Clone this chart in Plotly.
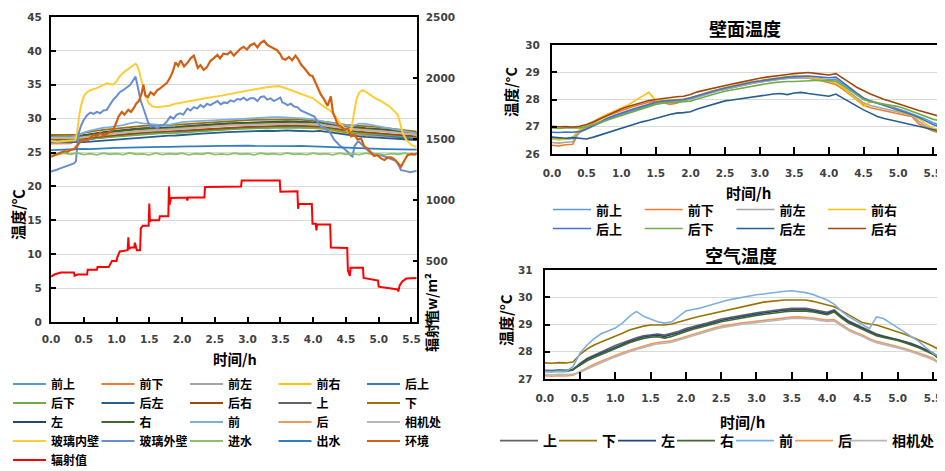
import plotly.graph_objects as go

# ---------------- data ----------------
T = [0.0, 0.1, 0.2, 0.3, 0.4, 0.5, 0.6, 0.7, 0.8, 0.9,
     1.0, 1.1, 1.2, 1.3, 1.4, 1.5, 1.6, 1.7, 1.8, 1.9,
     2.0, 2.1, 2.2, 2.3, 2.4, 2.5, 2.6, 2.7, 2.8, 2.9,
     3.0, 3.1, 3.2, 3.3, 3.4, 3.5, 3.6, 3.7, 3.8, 3.9,
     4.0, 4.1, 4.2, 4.3, 4.4, 4.5, 4.6, 4.7, 4.8, 4.9,
     5.0, 5.1, 5.2, 5.3, 5.4, 5.5, 5.6]

# wall temperatures (壁面温度)
qian_shang = [26.55, 26.56, 26.54, 26.57, 26.80, 26.92, 27.04, 27.15, 27.26, 27.36,
              27.45, 27.54, 27.62, 27.70, 27.78, 27.86, 27.90, 27.92, 27.95, 27.98,
              28.02, 28.10, 28.18, 28.26, 28.32, 28.38, 28.44, 28.50, 28.55, 28.60,
              28.64, 28.68, 28.72, 28.75, 28.77, 28.79, 28.80, 28.80, 28.78, 28.75,
              28.72, 28.74, 28.58, 28.40, 28.22, 28.05, 27.95, 27.88, 27.80, 27.72,
              27.65, 27.57, 27.48, 27.38, 27.28, 27.15, 27.08]
qian_xia = [26.32, 26.30, 26.34, 26.36, 26.85, 27.00, 27.14, 27.28, 27.40, 27.50,
            27.60, 27.68, 27.76, 27.84, 27.90, 27.94, 27.90, 27.82, 27.86, 27.95,
            28.04, 28.14, 28.22, 28.30, 28.36, 28.42, 28.48, 28.54, 28.60, 28.64,
            28.68, 28.72, 28.76, 28.80, 28.82, 28.84, 28.82, 28.80, 28.74, 28.68,
            28.62, 28.55, 28.38, 28.18, 27.98, 27.80, 27.70, 27.64, 27.58, 27.52,
            27.46, 27.42, 27.38, 27.10, 26.96, 26.84, 26.78]
qian_zuo = [26.42, 26.40, 26.43, 26.45, 26.82, 26.95, 27.08, 27.20, 27.32, 27.42,
            27.52, 27.60, 27.68, 27.76, 27.84, 27.90, 27.92, 27.90, 27.92, 27.96,
            28.02, 28.10, 28.18, 28.26, 28.32, 28.38, 28.44, 28.50, 28.56, 28.60,
            28.64, 28.68, 28.72, 28.76, 28.78, 28.80, 28.80, 28.78, 28.74, 28.70,
            28.66, 28.62, 28.45, 28.25, 28.05, 27.88, 27.78, 27.72, 27.66, 27.60,
            27.54, 27.48, 27.42, 27.20, 27.02, 26.90, 26.84]
qian_you = [26.55, 26.52, 26.55, 26.62, 26.90, 27.05, 27.20, 27.34, 27.46, 27.58,
            27.68, 27.80, 27.96, 28.12, 28.26, 27.95, 27.96, 27.98, 28.00, 28.02,
            28.06, 28.14, 28.22, 28.30, 28.38, 28.44, 28.50, 28.56, 28.62, 28.66,
            28.70, 28.74, 28.78, 28.82, 28.84, 28.86, 28.86, 28.84, 28.78, 28.72,
            28.66, 28.62, 28.44, 28.22, 28.00, 27.76, 27.92, 27.88, 27.80, 27.72,
            27.58, 27.50, 27.42, 27.30, 27.10, 26.95, 26.88]
hou_shang = [26.80, 26.79, 26.81, 26.80, 26.82, 26.92, 27.05, 27.18, 27.30, 27.40,
             27.50, 27.58, 27.66, 27.74, 27.82, 27.90, 27.94, 27.96, 27.98, 28.00,
             28.06, 28.14, 28.22, 28.30, 28.36, 28.42, 28.48, 28.54, 28.60, 28.64,
             28.68, 28.72, 28.76, 28.80, 28.82, 28.84, 28.86, 28.86, 28.84, 28.82,
             28.80, 28.82, 28.62, 28.42, 28.24, 28.06, 27.94, 27.86, 27.78, 27.70,
             27.62, 27.54, 27.44, 27.34, 27.22, 27.08, 27.00]
hou_xia = [26.96, 26.94, 26.96, 26.95, 26.96, 27.00, 27.08, 27.18, 27.26, 27.34,
           27.42, 27.50, 27.58, 27.66, 27.74, 27.82, 27.86, 27.88, 27.90, 27.90,
           27.94, 28.02, 28.10, 28.18, 28.24, 28.30, 28.35, 28.40, 28.45, 28.50,
           28.54, 28.58, 28.62, 28.65, 28.66, 28.66, 28.68, 28.68, 28.70, 28.70,
           28.70, 28.68, 28.52, 28.34, 28.16, 28.00, 27.92, 27.88, 27.84, 27.78,
           27.74, 27.66, 27.56, 27.46, 27.38, 27.28, 27.22]
hou_zuo = [26.62, 26.60, 26.58, 26.60, 26.57, 26.55, 26.62, 26.70, 26.80, 26.86,
           26.95, 27.02, 27.10, 27.18, 27.24, 27.30, 27.38, 27.45, 27.50, 27.52,
           27.55, 27.65, 27.72, 27.80, 27.88, 27.95, 27.98, 28.02, 28.06, 28.10,
           28.13, 28.16, 28.20, 28.22, 28.18, 28.24, 28.26, 28.22, 28.18, 28.15,
           28.12, 28.20, 28.05, 27.90, 27.76, 27.62, 27.50, 27.38, 27.30, 27.24,
           27.18, 27.12, 27.06, 27.00, 26.94, 26.88, 26.84]
hou_you = [27.02, 27.00, 27.01, 26.99, 27.02, 27.08, 27.18, 27.30, 27.42, 27.55,
           27.65, 27.74, 27.82, 27.90, 27.96, 28.00, 28.04, 28.08, 28.10, 28.12,
           28.18, 28.28, 28.34, 28.40, 28.47, 28.53, 28.57, 28.62, 28.68, 28.73,
           28.78, 28.82, 28.86, 28.90, 28.92, 28.95, 28.98, 28.99, 28.96, 28.92,
           28.90, 28.95, 28.80, 28.62, 28.45, 28.32, 28.20, 28.10, 28.00, 27.93,
           27.84, 27.76, 27.68, 27.60, 27.52, 27.44, 27.38]

# air temperatures (空气温度)
shang = [27.28, 27.27, 27.29, 27.28, 27.33, 27.57, 27.75, 27.88, 28.00, 28.11,
         28.23, 28.33, 28.43, 28.51, 28.59, 28.63, 28.65, 28.61, 28.67, 28.75,
         28.85, 28.93, 28.99, 29.05, 29.13, 29.20, 29.25, 29.30, 29.35, 29.39,
         29.43, 29.47, 29.51, 29.55, 29.57, 29.59, 29.60, 29.59, 29.55, 29.50,
         29.45, 29.54, 29.32, 29.14, 29.01, 28.89, 28.75, 28.65, 28.58, 28.52,
         28.46, 28.38, 28.30, 28.20, 28.08, 27.96, 27.78]
xia = [27.59, 27.58, 27.60, 27.59, 27.62, 27.90, 28.10, 28.25, 28.36, 28.46,
       28.56, 28.68, 28.80, 28.88, 28.94, 28.98, 28.99, 28.98, 29.02, 29.10,
       29.17, 29.24, 29.30, 29.36, 29.42, 29.48, 29.54, 29.60, 29.66, 29.72,
       29.78, 29.82, 29.85, 29.88, 29.90, 29.90, 29.91, 29.90, 29.85, 29.78,
       29.72, 29.65, 29.52, 29.36, 29.20, 29.07, 29.02, 28.98, 28.90, 28.82,
       28.74, 28.64, 28.54, 28.44, 28.32, 28.20, 28.06]
zuo = [27.32, 27.31, 27.33, 27.32, 27.36, 27.55, 27.72, 27.84, 27.95, 28.06,
       28.18, 28.28, 28.38, 28.46, 28.54, 28.58, 28.60, 28.56, 28.62, 28.70,
       28.80, 28.88, 28.94, 29.00, 29.08, 29.15, 29.20, 29.25, 29.30, 29.34,
       29.38, 29.42, 29.46, 29.50, 29.52, 29.54, 29.55, 29.54, 29.50, 29.45,
       29.40, 29.50, 29.28, 29.10, 28.98, 28.86, 28.72, 28.62, 28.55, 28.50,
       28.44, 28.36, 28.28, 28.18, 28.06, 27.94, 27.75]
you = [27.30, 27.29, 27.31, 27.30, 27.34, 27.51, 27.67, 27.79, 27.90, 28.01,
       28.13, 28.23, 28.33, 28.41, 28.49, 28.53, 28.55, 28.50, 28.56, 28.65,
       28.75, 28.83, 28.89, 28.95, 29.03, 29.10, 29.15, 29.20, 29.25, 29.29,
       29.33, 29.37, 29.41, 29.45, 29.47, 29.49, 29.50, 29.49, 29.46, 29.41,
       29.36, 29.46, 29.24, 29.06, 28.94, 28.82, 28.68, 28.59, 28.52, 28.47,
       28.41, 28.33, 28.25, 28.15, 28.03, 27.91, 27.72]
qian = [27.28, 27.27, 27.29, 27.28, 27.45, 27.95, 28.25, 28.48, 28.66, 28.76,
        28.87, 29.05, 29.30, 29.48, 29.30, 29.20, 29.10, 29.05, 29.10, 29.30,
        29.50, 29.55, 29.60, 29.68, 29.76, 29.84, 29.90, 29.95, 30.00, 30.04,
        30.09, 30.12, 30.16, 30.20, 30.22, 30.24, 30.20, 30.17, 30.10, 30.00,
        29.90, 29.75, 29.50, 29.30, 29.14, 29.00, 28.85, 29.28, 29.22, 29.05,
        28.88, 28.72, 28.55, 28.38, 28.15, 27.95, 27.80]
hou = [27.12, 27.10, 27.12, 27.11, 27.14, 27.28, 27.42, 27.54, 27.65, 27.76,
       27.86, 27.96, 28.05, 28.13, 28.20, 28.28, 28.34, 28.36, 28.40, 28.48,
       28.56, 28.64, 28.72, 28.80, 28.87, 28.93, 28.98, 29.02, 29.06, 29.09,
       29.12, 29.16, 29.20, 29.22, 29.25, 29.27, 29.28, 29.27, 29.24, 29.20,
       29.16, 29.18, 29.00, 28.84, 28.72, 28.62, 28.48, 28.38, 28.32, 28.26,
       28.20, 28.12, 28.04, 27.96, 27.86, 27.76, 27.58]
xiangji = [27.16, 27.15, 27.17, 27.16, 27.18, 27.24, 27.37, 27.49, 27.60, 27.71,
           27.81, 27.91, 28.00, 28.08, 28.15, 28.23, 28.29, 28.31, 28.35, 28.43,
           28.51, 28.59, 28.67, 28.75, 28.82, 28.88, 28.93, 28.97, 29.01, 29.04,
           29.07, 29.11, 29.15, 29.17, 29.20, 29.22, 29.23, 29.22, 29.19, 29.15,
           29.11, 29.13, 28.95, 28.79, 28.67, 28.57, 28.43, 28.33, 28.27, 28.21,
           28.15, 28.07, 27.99, 27.91, 27.81, 27.71, 27.55]

# water
jinshui = [24.85, 24.70, 24.90, 24.75, 24.95, 24.70, 24.85, 24.65, 24.90, 24.75,
           24.85, 24.70, 24.95, 24.75, 24.80, 24.65, 24.90, 24.70, 24.85, 24.75,
           24.90, 24.65, 24.85, 24.75, 24.95, 24.70, 24.80, 24.70, 24.90, 24.75,
           24.85, 24.65, 24.90, 24.75, 24.85, 24.70, 24.95, 24.75, 24.80, 24.70,
           24.90, 24.75, 24.85, 24.65, 24.90, 24.75, 24.85, 24.70, 24.90, 24.75,
           24.80, 24.70, 24.85, 24.75, 24.90, 24.70, 24.80]
chushui = [25.35, 25.40, 25.38, 25.45, 25.50, 25.55, 25.52, 25.60, 25.62, 25.65,
           25.68, 25.72, 25.70, 25.75, 25.78, 25.80, 25.82, 25.85, 25.83, 25.88,
           25.90, 25.92, 25.90, 25.95, 25.97, 25.95, 26.00, 25.98, 26.02, 26.00,
           26.03, 26.00, 25.98, 26.02, 26.00, 25.97, 26.00, 25.95, 25.98, 25.92,
           25.90, 25.88, 25.85, 25.80, 25.78, 25.72, 25.68, 25.65, 25.60, 25.58,
           25.55, 25.52, 25.50, 25.48, 25.45, 25.45, 25.42]

# glass inner wall (玻璃内壁)
boli_nei_t = [0.00, 0.10, 0.20, 0.30, 0.37, 0.40, 0.43, 0.46, 0.50, 0.55, 0.60, 0.70, 0.80, 0.85,
              0.90, 0.95, 1.00, 1.06, 1.12, 1.18, 1.24, 1.29, 1.31, 1.34, 1.37, 1.41, 1.45, 1.49,
              1.55, 1.62, 1.70, 1.80, 1.90, 2.00, 2.20, 2.40, 2.60, 2.80, 3.00, 3.20, 3.35, 3.48,
              3.55, 3.66, 3.80, 3.91, 4.00, 4.12, 4.20, 4.27, 4.35, 4.42, 4.50, 4.55, 4.58, 4.62,
              4.66, 4.70, 4.75, 4.80, 4.88, 4.95, 5.05, 5.15, 5.25, 5.29, 5.33, 5.37, 5.42, 5.50, 5.58]
boli_nei = [26.7, 26.6, 26.7, 26.8, 26.8, 28.0, 30.5, 32.0, 33.3, 33.9, 34.2, 34.5, 34.9, 35.2,
            35.1, 35.0, 35.5, 36.4, 36.9, 37.3, 37.7, 38.1, 37.9, 37.2, 36.0, 34.6, 33.2, 32.3,
            31.8, 31.7, 31.8, 31.9, 32.2, 32.4, 32.8, 33.1, 33.4, 33.8, 34.1, 34.5, 34.7, 34.8,
            34.6, 34.2, 33.8, 33.4, 33.0, 32.1, 31.6, 31.1, 30.2, 29.2, 28.4, 28.0, 28.4, 30.8,
            32.8, 33.8, 34.2, 34.0, 33.4, 33.0, 32.5, 31.9, 31.0, 30.6, 29.2, 27.8, 26.9, 26.1, 25.8]

# glass outer wall (玻璃外壁)
boli_wai_t = [0.00, 0.05, 0.10, 0.15, 0.20, 0.25, 0.30, 0.35, 0.38, 0.40, 0.42, 0.46, 0.50, 0.55,
              0.60, 0.65, 0.70, 0.75, 0.80, 0.85, 0.90, 0.95, 1.00, 1.05, 1.10, 1.15, 1.21, 1.25,
              1.29, 1.31, 1.34, 1.37, 1.41, 1.44, 1.48, 1.52, 1.57, 1.62, 1.67, 1.72, 1.77, 1.82,
              1.87, 1.92, 1.97, 2.02, 2.08, 2.13, 2.18, 2.23, 2.28, 2.33, 2.38, 2.43, 2.48, 2.54,
              2.59, 2.64, 2.69, 2.74, 2.79, 2.84, 2.89, 2.94, 2.99, 3.04, 3.10, 3.15, 3.20, 3.25,
              3.30, 3.35, 3.40, 3.45, 3.50, 3.53, 3.56, 3.61, 3.66, 3.71, 3.76, 3.81, 3.86, 3.91,
              3.96, 4.02, 4.07, 4.12, 4.18, 4.24, 4.28, 4.32, 4.37, 4.42, 4.47, 4.53, 4.57, 4.60,
              4.63, 4.67, 4.70, 4.74, 4.78, 4.83, 4.88, 4.95, 5.04, 5.12, 5.20, 5.26, 5.30, 5.34,
              5.40, 5.48, 5.58]
boli_wai = [22.2, 22.3, 22.5, 22.7, 22.9, 23.1, 23.2, 23.4, 23.7, 26.0, 27.8, 29.0, 29.8, 30.5,
            30.9, 30.7, 31.0, 30.8, 31.2, 31.3, 32.0, 32.8, 33.3, 33.9, 34.2, 34.6, 35.0, 35.6,
            36.2, 35.3, 33.8, 32.6, 31.5, 30.6, 29.5, 28.8, 28.9, 28.6, 29.0, 29.1, 29.6, 30.3,
            30.0, 30.6, 30.8, 30.6, 31.5, 31.2, 31.7, 31.5, 32.0, 31.7, 32.2, 32.0, 32.3, 32.6,
            32.1, 32.4, 32.3, 32.7, 32.5, 32.9, 32.8, 33.1, 32.7, 33.0, 33.0, 32.6, 33.2, 33.3,
            32.8, 33.0, 32.6, 32.8, 33.1, 32.4, 32.3, 32.0, 32.2, 31.8, 31.7, 31.2, 31.0, 30.7,
            30.5, 30.3, 29.5, 28.8, 28.6, 28.1, 27.6, 26.9, 26.4, 25.9, 25.6, 25.1, 24.6, 24.4,
            25.9, 26.5, 26.6, 26.2, 25.9, 25.3, 24.9, 24.8, 24.6, 24.3, 24.0, 23.8, 23.2, 22.4,
            22.3, 22.1, 22.3]

# ambient (环境)
huanjing_t = [0.00, 0.05, 0.10, 0.15, 0.20, 0.25, 0.30, 0.35, 0.40, 0.45, 0.50, 0.55, 0.60, 0.65,
              0.70, 0.75, 0.80, 0.85, 0.90, 0.95, 1.00, 1.03, 1.08, 1.12, 1.18, 1.22, 1.26, 1.30,
              1.34, 1.38, 1.41, 1.44, 1.48, 1.52, 1.57, 1.62, 1.67, 1.72, 1.77, 1.82, 1.86, 1.90,
              1.94, 1.98, 2.03, 2.08, 2.13, 2.18, 2.21, 2.24, 2.28, 2.33, 2.38, 2.43, 2.48, 2.54,
              2.58, 2.63, 2.69, 2.74, 2.79, 2.84, 2.89, 2.94, 2.99, 3.04, 3.10, 3.15, 3.20, 3.25,
              3.30, 3.35, 3.40, 3.45, 3.50, 3.53, 3.58, 3.63, 3.68, 3.73, 3.77, 3.82, 3.86, 3.91,
              3.95, 3.99, 4.03, 4.07, 4.12, 4.17, 4.22, 4.27, 4.30, 4.34, 4.38, 4.43, 4.48, 4.53,
              4.58, 4.63, 4.68, 4.73, 4.78, 4.83, 4.88, 4.93, 4.98, 5.04, 5.09, 5.14, 5.19, 5.24,
              5.29, 5.34, 5.39, 5.44, 5.50, 5.55, 5.60]
huanjing = [24.4, 24.6, 24.8, 24.9, 25.2, 25.1, 25.4, 25.5, 26.0, 26.6, 26.9, 26.7, 27.2, 27.6,
            27.4, 27.9, 27.5, 27.7, 28.1, 28.4, 29.5, 30.3, 31.0, 30.6, 31.3, 31.0, 31.5, 32.2,
            32.6, 33.6, 35.0, 33.4, 33.2, 33.9, 33.5, 34.2, 34.5, 34.9, 35.3, 36.1, 37.0, 38.3,
            37.8, 38.6, 37.7, 38.2, 38.9, 39.3, 38.5, 37.5, 37.9, 37.2, 37.6, 38.5, 38.9, 39.4,
            38.9, 39.6, 39.5, 39.9, 39.3, 39.8, 40.3, 40.6, 40.2, 40.8, 41.1, 40.5, 41.2, 41.5,
            40.9, 40.6, 40.3, 40.1, 39.5, 38.9, 38.7, 39.1, 38.6, 39.3, 38.8, 37.9, 37.5, 36.8,
            36.4, 36.3, 35.5, 34.6, 33.5, 32.8, 31.9, 33.3, 31.0, 30.0, 29.0, 28.8, 28.4, 28.5,
            27.4, 27.6, 26.9, 27.1, 25.9, 25.6, 25.1, 24.5, 24.6, 24.1, 23.9, 24.3, 24.3, 24.0,
            23.5, 22.9, 23.8, 24.6, 24.8, 24.7, 25.0]

# solar radiation (辐射值, W/m²)
fushe_t = [0.00, 0.05, 0.15, 0.35, 0.36, 0.40, 0.55, 0.56, 0.70, 0.71, 0.88, 0.90, 0.93, 1.00,
           1.01, 1.05, 1.17, 1.18, 1.19, 1.22, 1.27, 1.28, 1.30, 1.31, 1.36, 1.37, 1.40, 1.49,
           1.50, 1.51, 1.52, 1.65, 1.66, 1.79, 1.80, 1.81, 1.83, 2.07, 2.08, 2.09, 2.34, 2.35,
           2.90, 2.91, 3.30, 3.49, 3.50, 3.76, 3.77, 3.78, 3.98, 3.99, 4.04, 4.05, 4.06, 4.26,
           4.27, 4.52, 4.53, 4.56, 4.57, 4.76, 4.77, 4.88, 4.99, 5.00, 5.15, 5.29, 5.30, 5.32,
           5.36, 5.42, 5.58]
fushe = [372, 389, 405, 405, 378, 389, 389, 428, 428, 450, 450, 467, 500, 500,
         528, 578, 589, 694, 600, 611, 611, 650, 611, 589, 589, 767, 789, 789,
         972, 822, 833, 833, 867, 867, 1111, 961, 1016, 1020, 995, 1020, 1020, 1106,
         1111, 1160, 1164, 1160, 1067, 1072, 928, 967, 967, 806, 806, 750, 800, 800,
         611, 606, 422, 378, 444, 444, 361, 350, 339, 289, 280, 267, 250, 300,
         333, 356, 361]

WALL_NAMES = ["前上", "前下", "前左", "前右", "后上", "后下", "后左", "后右"]
WALL_DATA = [qian_shang, qian_xia, qian_zuo, qian_you, hou_shang, hou_xia, hou_zuo, hou_you]
WALL_COLORS = ["#5B9BD5", "#ED7D31", "#A5A5A5", "#FFC000", "#4472C4", "#70AD47", "#255E91", "#9E480E"]
AIR_NAMES = ["上", "下", "左", "右", "前", "后", "相机处"]
AIR_DATA = [shang, xia, zuo, you, qian, hou, xiangji]
AIR_COLORS = ["#636363", "#997300", "#264478", "#43682B", "#7CAFDD", "#F1975A", "#B7B7B7"]
# width allotted to each entry of the single-row air legend (last one holds 3 characters)
AIR_LEGEND_W = [6, 6, 6, 6, 6, 1, 46]

# ---------------- figure ----------------
# the page body has an 8px margin, so the figure is 8px smaller than the window
OFF = 8
W, H = 945 - OFF, 471 - OFF
CJK = "Noto Sans CJK SC"
TICKFONT = dict(family="DejaVu Sans", size=10.5, color="#404040", weight="bold")


def px(x):
    return (x - OFF) / W


def py(y):
    return 1 - (y - OFF) / H


fig = go.Figure()


def add(name, x, y, color, xa, ya, legend, width=1.8, lw=None):
    kw = {}
    if lw is not None:
        kw["legendwidth"] = lw
    fig.add_trace(go.Scatter(x=x, y=y, name=name, mode="lines",
                             line=dict(color=color, width=width),
                             xaxis=xa, yaxis=ya, legend=legend, hoverinfo="skip", **kw))


# left chart
left_names = WALL_NAMES + AIR_NAMES
left_data = WALL_DATA + AIR_DATA
left_colors = WALL_COLORS + AIR_COLORS
rows = ["legend"] * 5 + ["legend2"] * 5 + ["legend3"] * 5
for n, d, c, lg in zip(left_names, left_data, left_colors, rows):
    add(n, T, d, c, "x", "y", lg, 1.8)
add("玻璃内壁", boli_nei_t, boli_nei, "#FFCD33", "x", "y", "legend4", 2)
add("玻璃外壁", boli_wai_t, boli_wai, "#698ED0", "x", "y", "legend4", 2)
add("进水", T, jinshui, "#8CC168", "x", "y", "legend4", 1.8)
add("出水", T, chushui, "#327DC2", "x", "y", "legend4", 1.8)
add("环境", huanjing_t, huanjing, "#D26012", "x", "y", "legend4", 2.2)
add("辐射值", fushe_t, fushe, "#FF0000", "x", "y2", "legend5", 2)

# top-right chart (wall)
for i, (n, d, c) in enumerate(zip(WALL_NAMES, WALL_DATA, WALL_COLORS)):
    add(n, T, d, c, "x2", "y3", "legend6" if i < 4 else "legend7", 1.6)

# bottom-right chart (air)
for n, d, c, lw in zip(AIR_NAMES, AIR_DATA, AIR_COLORS, AIR_LEGEND_W):
    add(n, T, d, c, "x3", "y4", "legend8", 1.6, lw)


def axis(**kw):
    d = dict(showline=True, linecolor="black", linewidth=2, tickfont=TICKFONT,
             zeroline=False, showgrid=False, ticks="inside", tickcolor="black",
             tickwidth=2, ticklen=5, fixedrange=True)
    d.update(kw)
    return d


def ghost(**kw):
    d = dict(showline=False, showgrid=False, zeroline=False, showticklabels=False,
             ticks="outside", tickcolor="black", tickwidth=2, ticklen=4, fixedrange=True)
    d.update(kw)
    return d


LX = [px(51), px(416.7)]
LY = [py(322), py(17)]
TRX = [px(552), px(938.3)]
TRY = [py(154), py(45)]
BRX = [px(544.7), px(940)]
BRY = [py(379), py(270)]
GRID = "#D9D9D9"


def legend_row(x, y, size, entry, itemw):
    return dict(orientation="h", x=x, y=y, xanchor="left", yanchor="middle",
                bgcolor="rgba(0,0,0,0)", borderwidth=0,
                font=dict(family=CJK, size=size, color="black", weight="bold"),
                entrywidth=entry, entrywidthmode="pixels", itemwidth=itemw,
                itemclick=False, itemdoubleclick=False)


annos = []


def title(text, x, y, size, angle=0):
    annos.append(dict(text=text, x=px(x), y=py(y), xref="paper", yref="paper",
                      showarrow=False, textangle=angle, xanchor="center", yanchor="middle",
                      font=dict(family=CJK, size=size, color="black", weight="bold")))


title("温度/℃", 17, 215, 15, -90)
title("辐射值w/m²", 431, 313, 14, -90)
title("时间/h", 235, 358, 14.5)
title("壁面温度", 745, 28, 18)
title("温度/°C", 511, 92, 14.5, -90)
title("时间/h", 748, 192, 15)
title("空气温度", 741, 255, 18)
title("温度/°C", 505, 320, 15, -90)
title("时间/h", 742, 421, 15)

fig.update_layout(
    width=W, height=H,
    margin=dict(l=0, r=0, t=0, b=0, autoexpand=False),
    paper_bgcolor="white", plot_bgcolor="white",
    hovermode=False,
    xaxis=axis(domain=LX, range=[0, 5.58], dtick=0.5, tick0=0, tickformat=".1f",
               anchor="y", mirror=True, ticklen=5, ticklabelstandoff=6),
    yaxis=axis(domain=LY, range=[0, 45], dtick=5, tick0=0, anchor="x",
               showgrid=True, gridcolor=GRID, gridwidth=1, ticklen=5, ticklabelstandoff=5),
    yaxis2=axis(overlaying="y", side="right", range=[0, 2500], dtick=500, tick0=0,
                anchor="x", ticklen=4, ticklabelstandoff=5),
    xaxis2=axis(domain=TRX, range=[0, 5.58], dtick=0.5, tick0=0, tickformat=".1f",
                anchor="y3", mirror=True, ticklen=7, ticklabelstandoff=8),
    yaxis3=axis(domain=TRY, range=[26, 30], dtick=1, tick0=26, anchor="x2", mirror=True,
                showgrid=True, gridcolor=GRID, gridwidth=1, ticklen=5, ticklabelstandoff=8),
    xaxis3=axis(domain=BRX, range=[0, 5.6], dtick=0.5, tick0=0, tickformat=".1f",
                anchor="y4", mirror=True, ticklen=7, ticklabelstandoff=8),
    yaxis4=axis(domain=BRY, range=[27, 31], dtick=1, tick0=27, anchor="x3", mirror=True,
                showgrid=True, gridcolor=GRID, gridwidth=1, ticklen=5, ticklabelstandoff=8),
    # outer halves of the crossing tick marks
    xaxis4=ghost(overlaying="x", anchor="y", range=[0, 5.58], dtick=0.5, tick0=0, ticklen=5),
    yaxis5=ghost(overlaying="y", side="right", anchor="x", range=[0, 2500], dtick=500, tick0=0, ticklen=3),
    xaxis5=ghost(overlaying="x2", anchor="y3", range=[0, 5.58], dtick=0.5, tick0=0, ticklen=3),
    yaxis6=ghost(overlaying="y3", anchor="x2", range=[26, 30], dtick=1, tick0=26, ticklen=5),
    xaxis6=ghost(overlaying="x3", anchor="y4", range=[0, 5.6], dtick=0.5, tick0=0, ticklen=3),
    yaxis7=ghost(overlaying="y4", anchor="x3", range=[27, 31], dtick=1, tick0=27, ticklen=5),
    legend=legend_row(px(8), py(384), 12, 40.5, 33),
    legend2=legend_row(px(8), py(403), 12, 40.5, 33),
    legend3=legend_row(px(8), py(422), 12, 40.5, 33),
    legend4=legend_row(px(8), py(441), 12, 40.5, 33),
    legend5=legend_row(px(8), py(460), 12, 40.5, 33),
    legend6=legend_row(px(548), py(209.5), 13, 38.7, 38),
    legend7=legend_row(px(548), py(228.5), 13, 38.7, 38),
    legend8=legend_row(px(495), py(441), 14, 6, 38),
    annotations=annos,
)

fig.write_html("out.html")
